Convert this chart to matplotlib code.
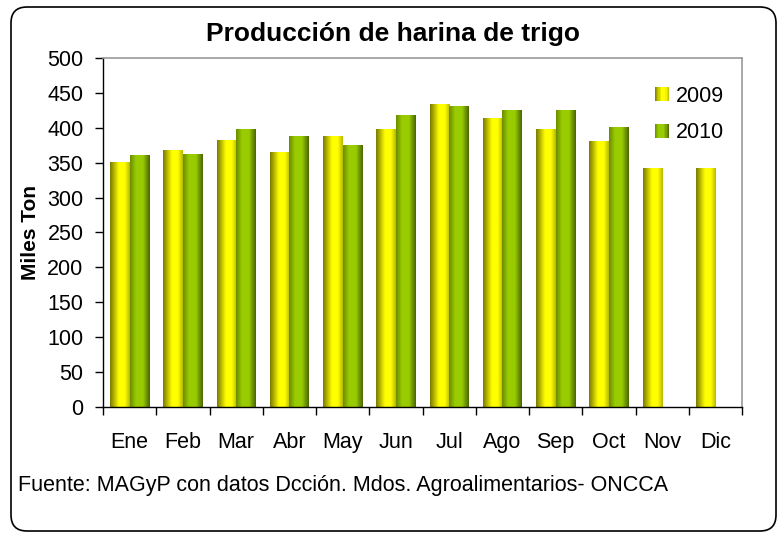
import numpy as np
import matplotlib
matplotlib.use("Agg")
import matplotlib.pyplot as plt
from matplotlib.colors import LinearSegmentedColormap
from matplotlib.patches import FancyBboxPatch, Rectangle
from matplotlib.legend_handler import HandlerBase

plt.rcParams['font.family'] = ['Liberation Sans', 'DejaVu Sans']

# Data (miles de toneladas)
meses = ["Ene", "Feb", "Mar", "Abr", "May", "Jun", "Jul", "Ago", "Sep", "Oct", "Nov", "Dic"]
prod2009 = [351, 367, 382, 364, 388, 397, 433, 413, 397, 381, 342, 341]
prod2010 = [361, 362, 398, 388, 374, 417, 430, 425, 425, 400, np.nan, np.nan]

# horizontal shading of the bars
cmap09 = LinearSegmentedColormap.from_list("c09", [(0, "#7a7a00"), (0.45, "#ffff00"), (0.75, "#ffff00"), (1, "#b8b800")])
cmap10 = LinearSegmentedColormap.from_list("c10", [(0, "#6b8c00"), (0.3, "#99cc00"), (0.65, "#99cc00"), (1, "#4a6600")])
grad = np.linspace(0, 1, 64).reshape(1, -1)


class GradHandler(HandlerBase):
    def __init__(self, cmap):
        super().__init__()
        self.cmap = cmap

    def create_artists(self, legend, orig_handle, xdescent, ydescent, width, height, fontsize, trans):
        n = 12
        arts = []
        for i in range(n):
            r = Rectangle((-xdescent + width * i / n, -ydescent), width / n + 0.3, height,
                          facecolor=self.cmap((i + 0.5) / n), edgecolor='none', transform=trans)
            arts.append(r)
        return arts


fig = plt.figure(figsize=(7.81, 5.33), dpi=100)
ax = fig.add_axes([103 / 781, 1 - 407 / 533, (742 - 103) / 781, (407 - 58) / 533])

x = np.arange(len(meses))
w = 0.365
b1 = ax.bar(x - w / 2, prod2009, w, color='none', label='2009')
b2 = ax.bar(x + w / 2, prod2010, w, color='none', label='2010')

for bars, cm in [(b1, cmap09), (b2, cmap10)]:
    for p in bars:
        h = p.get_height()
        if np.isnan(h):
            continue
        ax.imshow(grad, cmap=cm, aspect='auto', interpolation='bilinear',
                  extent=[p.get_x(), p.get_x() + p.get_width(), 0, h], zorder=2)

ax.set_xlim(-0.5, 11.5)
ax.set_ylim(0, 500)
ax.set_yticks(np.arange(0, 501, 50))
ax.set_xticks(np.arange(-0.5, 12, 1))
ax.set_xticklabels([])
ax.set_xticks(x, minor=True)
ax.set_xticklabels(meses, minor=True)
ax.tick_params(axis='x', which='major', direction='out', length=6, width=1)
ax.tick_params(axis='x', which='minor', length=0, pad=18, labelsize=15.5)
ax.tick_params(axis='y', direction='out', length=6, width=1, pad=8, labelsize=15.5)

for s in ['top', 'right']:
    ax.spines[s].set_color('#999999')
    ax.spines[s].set_linewidth(1.2)
for s in ['left', 'bottom']:
    ax.spines[s].set_color('black')
    ax.spines[s].set_linewidth(1.0)

ax.set_ylabel("Miles Ton", fontsize=15, fontweight='bold')
ax.yaxis.set_label_coords(-63 / 639, 0.5)

leg = ax.legend(handles=[b1, b2], labels=['2009', '2010'],
                handler_map={b1: GradHandler(cmap09), b2: GradHandler(cmap10)},
                loc='upper left', bbox_to_anchor=(655 / 781, 1 - 86 / 533), bbox_transform=fig.transFigure,
                frameon=False, fontsize=15.5, handlelength=0.65, handleheight=0.63,
                handletextpad=0.3, labelspacing=0.72, borderpad=0, borderaxespad=0)

fig.text(393 / 781, 1 - 41 / 533, "Producción de harina de trigo", ha='center', va='baseline',
         fontsize=19, fontweight='bold')
fig.text(18 / 781, 1 - 485 / 533, "Fuente: MAGyP con datos Dcción. Mdos. Agroalimentarios- ONCCA",
         ha='left', va='center', fontsize=15.5)

# rounded outer frame
frame = FancyBboxPatch((0.11, 0.02), 7.65, 5.24, boxstyle="round,pad=0,rounding_size=0.16",
                       transform=fig.dpi_scale_trans, facecolor='none', edgecolor='black',
                       linewidth=1.2, zorder=10)
fig.patches.append(frame)

fig.savefig("out.png", dpi=100)
